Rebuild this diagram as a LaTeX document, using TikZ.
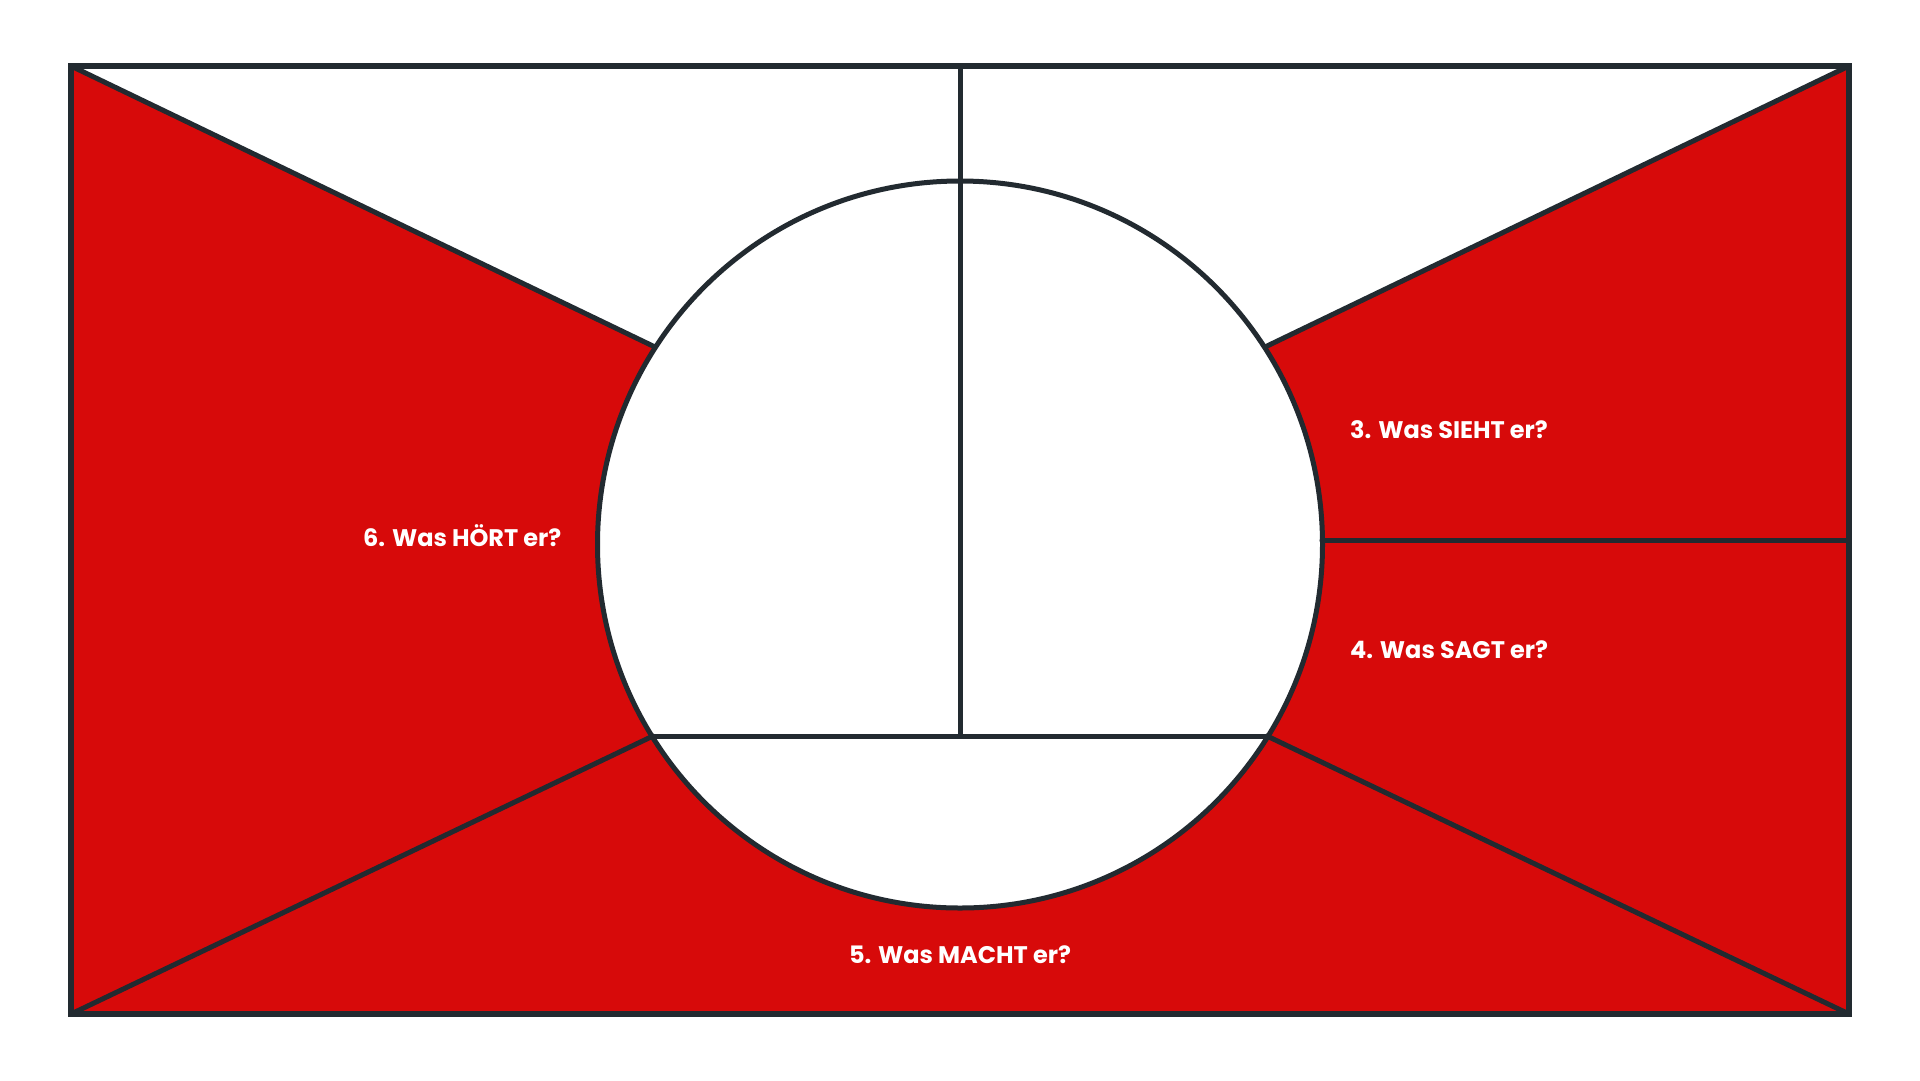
\documentclass[tikz,border=0pt]{standalone}
\usepackage{fontspec}
\newfontfamily\pop{Poppins}
\definecolor{redfill}{HTML}{D70A0A}
\definecolor{linecol}{HTML}{222A30}
\begin{document}
\begin{tikzpicture}[x=1pt,y=-1pt,
  edge/.style={draw=linecol,line width=5pt,line cap=round,line join=round},
  frame/.style={draw=linecol,line width=6pt,line join=miter},
  lbl/.style={text=white,font=\pop\bfseries\fontsize{24}{28}\selectfont,inner sep=0pt}]
\useasboundingbox (0,0) rectangle (1920,1080);
\coordinate (TL) at (71,66);
\coordinate (TR) at (1849,66);
\coordinate (BL) at (71,1014);
\coordinate (BR) at (1849,1014);
\coordinate (TM) at (960,66);
\coordinate (C) at (960,544.5);
\coordinate (UL) at (655,347);
\coordinate (UR) at (1265,347);
\coordinate (LL) at (653,736);
\coordinate (LR) at (1267,736);
\coordinate (CM) at (960,736);
\coordinate (RM) at (1322,540);
\coordinate (RE) at (1849,540);
% fills
\fill[redfill] (TL) rectangle (BR);
\fill[white] (TL) -- (UL) -- (UR) -- (TR) -- cycle;
\fill[white] (C) circle[x radius=362.5,y radius=363.5];
% lines
\draw[edge] (TL) -- (UL);
\draw[edge] (TR) -- (UR);
\draw[edge] (BL) -- (LL);
\draw[edge] (BR) -- (LR);
\draw[edge] (C) circle[x radius=362.5,y radius=363.5];
\draw[edge] (TM) -- (CM);
\draw[edge] (LL) -- (LR);
\draw[edge] (RM) -- (RE);
\draw[frame] (TL) rectangle (BR);
% labels
\node[lbl,anchor=west] (sieht) at (1350,430) {3. Was SIEHT er?};
\node[lbl,anchor=west] (sagt) at (1350,650) {4. Was SAGT er?};
\node[lbl,anchor=west] (hoert) at (363,536) {6. Was HÖRT er?};
\node[lbl] (macht) at (960,955) {5. Was MACHT er?};
\end{tikzpicture}
\end{document}
